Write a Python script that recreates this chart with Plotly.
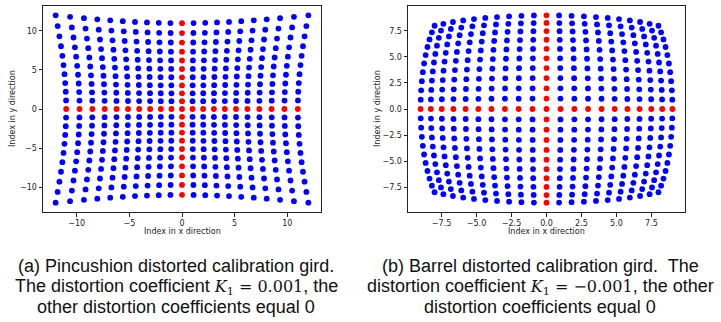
import plotly.graph_objects as go

# Grid indices of the undistorted calibration grid
grid_index = [-10, -9, -8, -7, -6, -5, -4, -3, -2, -1, 0, 1, 2, 3, 4, 5, 6, 7, 8, 9, 10]
# Radial distortion coefficient K1 for each panel
k1_values = [0.001, -0.001]
panel_ticks = [[-10, -5, 0, 5, 10], [-7.5, -5.0, -2.5, 0.0, 2.5, 5.0, 7.5]]
panel_tick_text = [["−10", "−5", "0", "5", "10"],
                   ["−7.5", "−5.0", "−2.5", "0.0", "2.5", "5.0", "7.5"]]
caption_lines = [
    ["(a) Pincushion distorted calibration gird.",
     "The distortion coefficient {K} = {v}, the",
     "other distortion coefficients equal 0"],
    ["(b) Barrel distorted calibration gird.  The",
     "distortion coefficient {K} = {v}, the other",
     "distortion coefficients equal 0"],
]
caption_values = ["0.001", "−0.001"]

W, H = 721, 322
domains_x = [(43, 321), (408, 685)]
dom_y = (6, 212)
caption_cx = [176, 540]
caption_y = [266, 287, 307]

fig = go.Figure()
for p, k1 in enumerate(k1_values):
    bx, by, rx, ry = [], [], [], []
    for gx in grid_index:
        for gy in grid_index:
            f = 1 + k1 * (gx * gx + gy * gy)
            xd, yd = gx * f, gy * f
            if gx == 0 or gy == 0:
                rx.append(xd); ry.append(yd)
            else:
                bx.append(xd); by.append(yd)
    xa = "x" if p == 0 else "x2"
    ya = "y" if p == 0 else "y2"
    fig.add_trace(go.Scatter(x=bx, y=by, mode="markers", xaxis=xa, yaxis=ya,
                             marker=dict(color="#0000ff", size=5.8, line=dict(width=0)),
                             showlegend=False))
    fig.add_trace(go.Scatter(x=rx, y=ry, mode="markers", xaxis=xa, yaxis=ya,
                             marker=dict(color="#ff0000", size=5.8, line=dict(width=0)),
                             showlegend=False))
    allx = bx + rx
    ally = by + ry
    mx, Mx = min(allx), max(allx)
    my, My = min(ally), max(ally)
    padx = 0.05 * (Mx - mx)
    pady = 0.05 * (My - my)
    axis_common = dict(showgrid=False, zeroline=False, showline=True, mirror=True,
                       linecolor="#222222", linewidth=1, ticks="outside", ticklen=3.5,
                       tickcolor="#222222", tickwidth=1,
                       tickfont=dict(family="DejaVu Sans", size=8, color="#222222"))
    key = "" if p == 0 else "2"
    d0, d1 = domains_x[p]
    fig.update_layout(**{
        "xaxis" + key: dict(axis_common, domain=[d0 / W, d1 / W], range=[mx - padx, Mx + padx],
                            tickvals=panel_ticks[p], ticktext=panel_tick_text[p],
                            anchor="y" + key),
        "yaxis" + key: dict(axis_common, domain=[1 - dom_y[1] / H, 1 - dom_y[0] / H],
                            range=[my - pady, My + pady],
                            tickvals=panel_ticks[p], ticktext=panel_tick_text[p],
                            anchor="x" + key),
    })
    # axis titles
    fig.add_annotation(x=(d0 + d1) / 2 / W, y=1 - 231 / H, xref="paper", yref="paper",
                       xanchor="center", yanchor="middle",
                       text="Index in x direction", showarrow=False,
                       font=dict(family="DejaVu Sans", size=8, color="#222222"))
    fig.add_annotation(x=(13 if p == 0 else 378) / W, y=1 - 109 / H, xref="paper", yref="paper",
                       xanchor="center", yanchor="middle",
                       text="Index in y direction", showarrow=False, textangle=-90,
                       font=dict(family="DejaVu Sans", size=8, color="#222222"))
    kmath = ("<span style=\"font-family:'DejaVu Serif'; font-size:16px\"><i>K</i><sub>1</sub> = "
             + caption_values[p] + "</span>")
    for li, line in enumerate(caption_lines[p]):
        fig.add_annotation(x=caption_cx[p] / W, y=1 - caption_y[li] / H,
                           xref="paper", yref="paper",
                           xanchor="center", yanchor="middle",
                           text=line.replace("{K} = {v}", kmath), showarrow=False,
                           font=dict(family="Liberation Sans", size=18, color="#111111"))

fig.update_layout(width=W, height=H, margin=dict(l=0, r=0, t=0, b=0),
                  plot_bgcolor="white", paper_bgcolor="white", hovermode=False)
fig.write_html("out.html", config={"displayModeBar": False},
               post_script="document.body.style.margin='0';document.body.style.overflow='hidden';")
